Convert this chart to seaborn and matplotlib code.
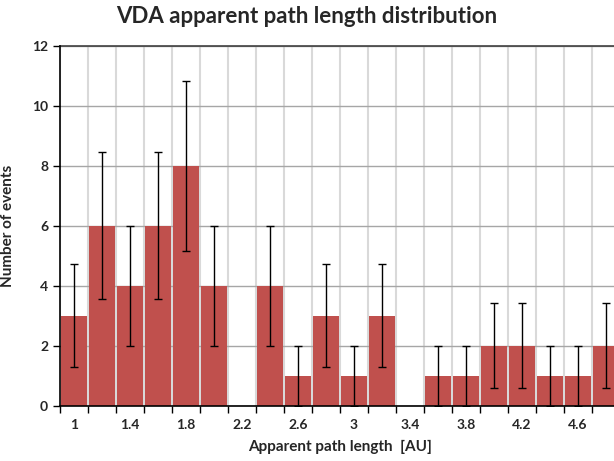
import numpy as np
import pandas as pd
import matplotlib
matplotlib.use("Agg")
import matplotlib.pyplot as plt
import seaborn as sns

# bin centres (AU), counts and their errors
bins = ["1", "1.2", "1.4", "1.6", "1.8", "2", "2.2", "2.4", "2.6", "2.8",
        "3", "3.2", "3.4", "3.6", "3.8", "4", "4.2", "4.4", "4.6", "4.8"]
counts = [3, 6, 4, 6, 8, 4, 0, 4, 1, 3, 1, 3, 0, 1, 1, 2, 2, 1, 1, 2]
errors = [1.73, 2.45, 2.0, 2.45, 2.83, 2.0, 0, 2.0, 1.0, 1.73,
          1.0, 1.73, 0, 1.0, 1.0, 1.41, 1.41, 1.0, 1.0, 1.41]
tick_labels = ["1", "1.4", "1.8", "2.2", "2.6", "3", "3.4", "3.8", "4.2", "4.6"]

df = pd.DataFrame({"bin": bins, "count": counts, "err": errors})

sns.set_style("white")
plt.rcParams["font.family"] = ["Lato", "DejaVu Sans"]

fig = plt.figure(figsize=(6.14, 4.61), dpi=100)
ax = fig.add_axes([60 / 614, 55.5 / 461, 560 / 614, 359.7 / 461])

sns.barplot(data=df, x="bin", y="count", order=bins, color="#c0504d",
            saturation=1, width=0.92, linewidth=0, ax=ax, zorder=3)

pos = np.arange(len(bins))
has = df["count"] > 0
ax.errorbar(pos[has], df["count"][has], yerr=df["err"][has], fmt="none",
            ecolor="black", elinewidth=1, capsize=3, capthick=1, zorder=4)

ax.set_xlim(-0.5, len(bins) - 0.5)
ax.set_ylim(0, 12)
ax.set_yticks(range(0, 13, 2))

# tick marks at the bin edges, labels on every other bin
ax.set_xticks(np.arange(-0.5, len(bins), 1.0))
ax.set_xticklabels([])
ax.set_xticks(np.arange(0, len(bins), 2), minor=True)
ax.set_xticklabels(tick_labels, minor=True)
ax.tick_params(axis="x", which="major", length=5, width=1, color="black", direction="out", bottom=True)
ax.tick_params(axis="x", which="minor", length=0, pad=10, labelsize=10)
ax.tick_params(axis="y", length=5, width=1, color="black", direction="out", left=True, labelsize=10)
for lab in ax.get_xticklabels(minor=True) + ax.get_yticklabels():
    lab.set_fontweight("bold")

ax.grid(axis="x", which="major", color="#d9d9d9", linewidth=1.5, zorder=0)
ax.grid(axis="y", color="#a6a6a6", linewidth=1, zorder=1)
ax.set_axisbelow(True)

for s in ["left", "bottom"]:
    ax.spines[s].set_color("black")
    ax.spines[s].set_linewidth(1.2)
    ax.spines[s].set_zorder(5)
ax.spines["top"].set_color("#404040")
ax.spines["top"].set_linewidth(1.2)
ax.spines["right"].set_visible(False)

ax.set_xlabel("Apparent path length  [AU]", fontsize=11, fontweight="bold", labelpad=6)
ax.set_ylabel("Number of events", fontsize=11, fontweight="bold", labelpad=12)
fig.text(0.5, 0.965, "VDA apparent path length distribution", ha="center", va="center",
         fontsize=16, fontweight="bold")

fig.savefig("out.png", dpi=100)
